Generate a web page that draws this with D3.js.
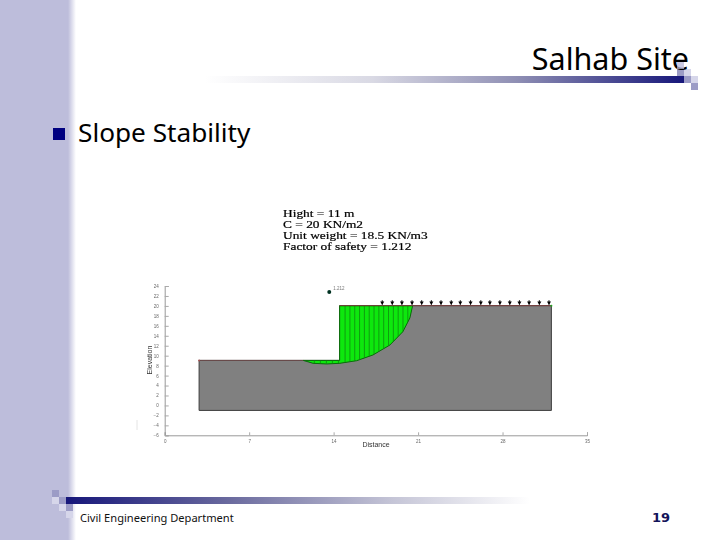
<!DOCTYPE html>
<html lang="en">
  <meta charset="UTF-8" />
  <title>Salhab Site</title>
  <style>
    html, body { margin: 0; padding: 0; background: #fff; }
    svg { display: block; }
  </style>
  <script src="https://d3js.org/d3.v7.min.js"></script>
  <body>
    <div id="chart"></div>
    <script>
      // values (distance, elevation)
      const xTicks = [0, 7, 14, 21, 28, 35];
      const yTicks = [-6, -4, -2, 0, 2, 4, 6, 8, 10, 12, 14, 16, 18, 20, 22, 24];
      const groundX = [2.85, 14.5, 14.5, 32.05, 32.05, 2.85];
      const groundY = [9.05, 9.05, 20.05, 20.05, -1, -1];
      const slipX = [11.48, 12.29, 13.42, 14.52, 15.91, 17.26, 18.67, 19.74, 20.32, 20.55];
      const slipY = [9.05, 8.47, 8.33, 8.47, 8.99, 10.14, 12.15, 14.82, 17.58, 20.05];
      const sliceX = [11.9, 12.4, 12.9, 13.4, 13.9, 14.4, 14.95, 15.35, 15.75, 16.15, 16.55, 16.95, 17.35, 17.75, 18.15, 18.55, 18.95, 19.35, 19.75, 20.15];
      const loadX = [18.03, 18.86, 19.66, 20.5, 21.3, 22.1, 22.9, 23.75, 24.5, 25.35, 26.2, 26.95, 27.78, 28.6, 29.4, 30.2, 31.05, 31.85];
      const centreX = 13.64;
      const centreY = 22.8;
      const factorLabel = "1.212";
      const notes = ["Hight = 11 m", "C = 20 KN/m2", "Unit weight = 18.5 KN/m3", "Factor of safety = 1.212"];

      const svg = d3.select("#chart").append("svg").attr("width", 720).attr("height", 540);
      const defs = svg.append("defs");

      function gradient(id, stops) {
        const g = defs.append("linearGradient").attr("id", id);
        stops.forEach((s) => {
          g.append("stop").attr("offset", s[0]).attr("stop-color", s[1]);
        });
      }
      gradient("side", [["0", "#bdbddb"], ["1", "#ffffff"]]);
      gradient("topRule", [["0", "#ffffff"], ["0.35", "#d9d9e4"], ["0.65", "#8f8fb4"], ["1", "#16167a"]]);
      gradient("bottomRule", [["0", "#16167a"], ["0.35", "#6a6a9e"], ["0.7", "#c4c4d6"], ["1", "#ffffff"]]);
      defs.append("filter").attr("id", "soft").append("feGaussianBlur").attr("stdDeviation", 0.45);
      defs.append("filter").attr("id", "softer").append("feGaussianBlur").attr("stdDeviation", 0.3);

      // slide background
      svg.append("rect").attr("width", 68).attr("height", 540).attr("fill", "#bdbddb");
      svg.append("rect").attr("x", 68).attr("width", 8).attr("height", 540).attr("fill", "url(#side)");
      svg.append("rect").attr("x", 205).attr("y", 76).attr("width", 479).attr("height", 7).attr("fill", "url(#topRule)");
      svg.append("rect").attr("x", 66).attr("y", 497).attr("width", 464).attr("height", 7).attr("fill", "url(#bottomRule)");

      const mid = "#9c9cc6", pale = "#d6d6ea";
      const squares = [
        [677, 69, mid], [684, 69, pale], [684, 76, mid], [691, 76, pale], [691, 83, mid],
        [52, 490, mid], [52, 497, pale], [59, 497, mid], [59, 504, pale], [66, 504, mid], [66, 511, pale],
      ];
      svg.selectAll("rect.sq").data(squares).enter().append("rect")
        .attr("class", "sq")
        .attr("x", (d) => d[0]).attr("y", (d) => d[1])
        .attr("width", 7).attr("height", 7)
        .attr("fill", (d) => d[2]);

      svg.append("rect").attr("x", 53).attr("y", 128).attr("width", 12).attr("height", 12).attr("fill", "#000080");

      const sans = "'Noto Sans', Tahoma, sans-serif";
      svg.append("text").attr("x", 689).attr("y", 70).attr("text-anchor", "end")
        .attr("font-family", sans).attr("font-size", 30.5).attr("fill", "#000").text("Salhab Site");
      svg.append("rect").attr("x", 677).attr("y", 62).attr("width", 7).attr("height", 7).attr("fill", "#b8b8d8").attr("opacity", 0.75);
      svg.append("text").attr("x", 78).attr("y", 142).attr("font-family", sans).attr("font-size", 26.2)
        .attr("fill", "#000").text("Slope Stability");
      svg.append("text").attr("x", 80).attr("y", 522).attr("font-family", sans).attr("font-size", 11.1)
        .attr("fill", "#111").text("Civil Engineering Department");
      svg.append("text").attr("x", 661).attr("y", 522).attr("text-anchor", "middle")
        .attr("font-family", "'DejaVu Sans', sans-serif").attr("font-weight", "bold").attr("font-size", 13)
        .attr("fill", "#14145a").text("19");

      // notes above the section, stretched sideways like the pasted picture
      const noteGroup = svg.append("g").attr("filter", "url(#softer)")
        .attr("transform", "translate(283,0) scale(1.3,1)");
      noteGroup.selectAll("text").data(notes).enter().append("text")
        .attr("x", 0)
        .attr("y", (d, i) => 217 + i * 11)
        .attr("font-family", "'Liberation Serif', serif")
        .attr("font-size", 10.3)
        .attr("stroke", "#000").attr("stroke-width", 0.2)
        .attr("fill", "#000")
        .text((d) => d);

      // section drawing
      const x = d3.scaleLinear().domain([0, 35]).range([164.7, 587]);
      const y = d3.scaleLinear().domain([-6, 24]).range([435.3, 286]);
      const plot = svg.append("g").attr("filter", "url(#soft)");

      const line = d3.line().x((d) => x(d[0])).y((d) => y(d[1]));
      const ground = d3.zip(groundX, groundY);
      const slip = d3.zip(slipX, slipY);
      // green mass: slip curve then back along the ground surface
      const mass = slip.concat([[14.5, 20.05], [14.5, 9.05]]);

      plot.append("path").attr("d", line(ground) + "Z")
        .attr("fill", "#808080").attr("stroke", "#3f3f3f").attr("stroke-width", 1);

      defs.append("clipPath").attr("id", "massClip").append("path").attr("d", line(mass) + "Z");
      plot.append("path").attr("d", line(mass) + "Z")
        .attr("fill", "#08e808").attr("stroke", "#0a6a0a").attr("stroke-width", 1);
      plot.append("g").attr("clip-path", "url(#massClip)")
        .selectAll("line").data(sliceX).enter().append("line")
        .attr("x1", (d) => x(d)).attr("x2", (d) => x(d))
        .attr("y1", y(20.05)).attr("y2", y(8))
        .attr("stroke", "#0a8a0a").attr("stroke-width", 0.8);

      // crest and toe surface line
      plot.append("path").attr("d", line([[14.5, 20.05], [32.05, 20.05]]))
        .attr("fill", "none").attr("stroke", "#7a3e3e").attr("stroke-width", 1);
      plot.append("path").attr("d", line([[2.85, 9.05], [11.48, 9.05]]))
        .attr("fill", "none").attr("stroke", "#6e4a4a").attr("stroke-width", 1);

      // end markers of the surface
      plot.append("circle").attr("cx", x(2.85)).attr("cy", y(9.05)).attr("r", 1).attr("fill", "#a05050");
      plot.append("circle").attr("cx", x(32.05)).attr("cy", y(20.05)).attr("r", 1).attr("fill", "#22aa22");

      // surcharge arrows
      plot.selectAll("path.load").data(loadX).enter().append("path")
        .attr("class", "load")
        .attr("d", (d) => d3.line()([[x(d), y(20.05) - 5.5], [x(d), y(20.05) - 1]]))
        .attr("stroke", "#000").attr("stroke-width", 0.9);
      plot.selectAll("path.head").data(loadX).enter().append("path")
        .attr("class", "head")
        .attr("transform", (d) => "translate(" + x(d) + "," + (y(20.05) - 3) + ") rotate(180)")
        .attr("d", d3.symbol().type(d3.symbolTriangle).size(7))
        .attr("fill", "#000");

      // slip circle centre
      plot.append("circle").attr("cx", x(centreX)).attr("cy", y(centreY)).attr("r", 2).attr("fill", "#032");
      plot.append("text").attr("x", x(centreX) + 4).attr("y", y(centreY) - 1.5)
        .attr("font-family", "'Liberation Sans', sans-serif").attr("font-size", 4.5).attr("fill", "#777").text(factorLabel);

      // axes
      const xAxis = plot.append("g").attr("transform", "translate(0," + y(-6) + ")")
        .call(d3.axisBottom(x).tickValues(xTicks).tickSize(-3).tickPadding(5));
      const yAxis = plot.append("g").attr("transform", "translate(" + x(0) + ",0)")
        .call(d3.axisLeft(y).tickValues(yTicks).tickSize(-4).tickPadding(6));
      [xAxis, yAxis].forEach((a) => {
        a.select(".domain").attr("stroke", "#999");
        a.selectAll(".tick line").attr("stroke", "#aaa");
        a.selectAll("text").attr("font-size", 4.5).attr("fill", "#666")
          .attr("font-family", "'Liberation Sans', sans-serif");
      });

      plot.append("text").attr("transform", "translate(152,360) rotate(-90)")
        .attr("text-anchor", "middle").attr("font-family", "'Liberation Sans', sans-serif")
        .attr("font-size", 7).attr("fill", "#333").text("Elevation");
      plot.append("text").attr("x", 376).attr("y", 447)
        .attr("text-anchor", "middle").attr("font-family", "'Liberation Sans', sans-serif")
        .attr("font-size", 7).attr("fill", "#333").text("Distance");

      // faint scan mark left of the plot
      svg.append("path").attr("d", d3.line()([[137, 420], [137, 430]]))
        .attr("stroke", "#e4e4e4").attr("stroke-width", 1);
    </script>
  </body>
</html>
